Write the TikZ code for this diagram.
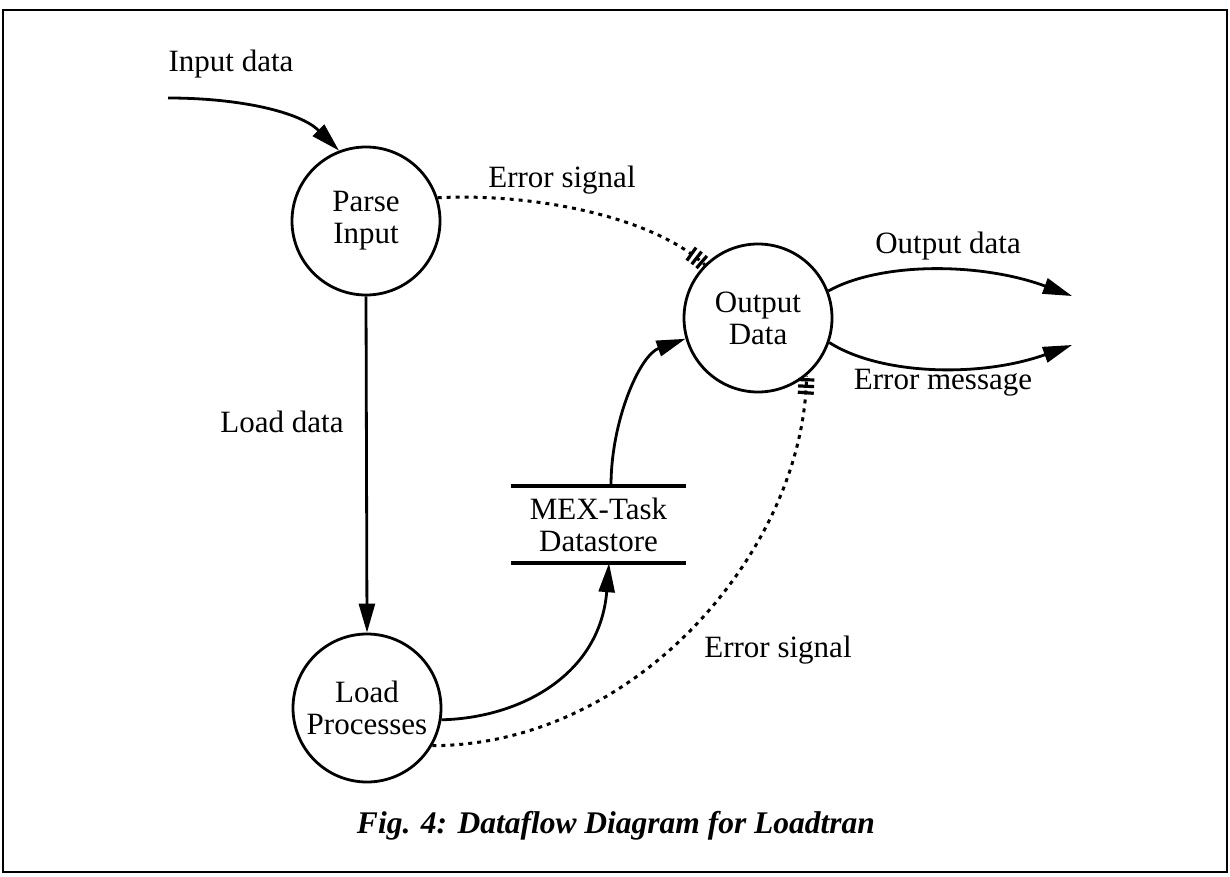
\documentclass[tikz,border=0pt]{standalone}
\usepackage{fontspec}
\setmainfont{Liberation Serif}
\usetikzlibrary{arrows.meta,decorations.markings,calc}
\begin{document}
\begin{tikzpicture}[x=1pt,y=-1pt,
  proc/.style={circle,draw,line width=2.8pt,minimum size=148pt,inner sep=0pt,align=center,font=\fontsize{31}{32}\selectfont},
  lbl/.style={font=\fontsize{31}{32}\selectfont,inner sep=0pt},
  flow/.style={line width=2.8pt,-{Triangle[length=29pt,width=16pt]}},
  hashmark/.style={solid,line width=3.2pt},
  errflow/.style={line width=3pt,dash pattern=on 4pt off 5pt,postaction={decorate},
    decoration={markings,
      mark=at position -4pt with {\draw[hashmark] (0,-8pt)--(0,8pt);},
      mark=at position -10.5pt with {\draw[hashmark] (0,-8pt)--(0,8pt);},
      mark=at position -17pt with {\draw[hashmark] (0,-8pt)--(0,8pt);}}},
  storeline/.style={line width=4pt}
]
\useasboundingbox (0,0) rectangle (1230,877);
\draw[line width=2.5pt] (3,10) rectangle (1227,872);

% processes
\node[proc] (parse) at (366,221) {Parse\\Input};
\node[proc] (out) at (758,318) {Output\\Data};
\node[proc] (load) at (367,708) {Load\\Processes};

% datastore
\node[lbl,minimum width=175pt,minimum height=77pt,align=center] (ds) at (598.5,524.5) {MEX-Task\\Datastore};
\draw[storeline] (ds.north west) -- (ds.north east);
\draw[storeline] (ds.south west) -- (ds.south east);
\coordinate (dsin) at ($(ds.south)+(10.5,0)$);
\coordinate (dsout) at ($(ds.north)+(12.5,0)$);

% free ends
\coordinate (src) at (168,98);
\coordinate (sinkA) at (1072,296);
\coordinate (sinkB) at (1072,345);

% labels
\node[lbl] (lin) at (231,64) {Input data};
\node[lbl] (lld) at (282,422) {Load data};
\node[lbl] (les1) at (562,180) {Error signal};
\node[lbl] (lout) at (948,246) {Output data};
\node[lbl] (lmsg) at (943,383) {Error message};
\node[lbl] (les2) at (778,650) {Error signal};
\node[font=\fontsize{31.5}{34}\selectfont\bfseries\itshape,inner sep=0pt] (cap) at (616,826) {Fig. 4: Dataflow Diagram for Loadtran};

% connectors
\draw[flow] (src) .. controls (240,98) and (300,112) .. (parse.111);
\draw[flow] (parse.south) -- (load.north);
\draw[errflow] (parse.18) .. controls (530,193) and (650,215) .. (out.135);
\draw[flow] (out.21) .. controls (880,262) and (980,262) .. (sinkA);
\draw[flow] (out.-19) .. controls (880,375) and (980,378) .. (sinkB);
\draw[flow] (load.-9) .. controls (520,718) and (600,675) .. (dsin);
\draw[flow] (dsout) .. controls (611,420) and (640,355) .. (out.196);
\draw[errflow] (load.-30) .. controls (640,745) and (805,545) .. (out.-50);
\end{tikzpicture}
\end{document}
